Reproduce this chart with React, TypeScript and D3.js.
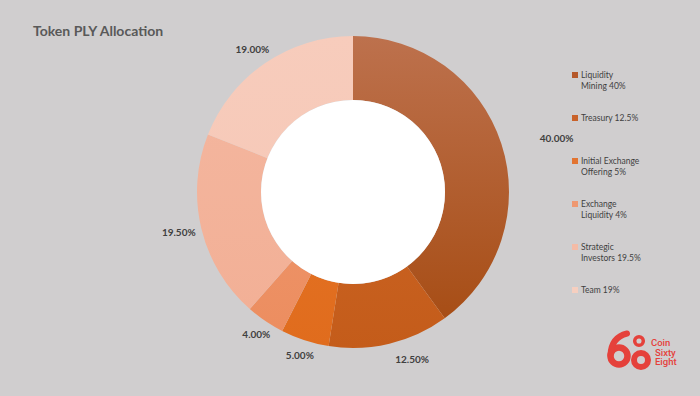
import React, { useRef, useEffect } from 'react'
import * as d3 from 'd3'

const categories = ['Liquidity Mining', 'Treasury', 'Initial Exchange Offering', 'Exchange Liquidity', 'Strategic Investors', 'Team']
const shares = [40, 12.5, 5, 4, 19.5, 19]
const legendLines = [
  ['Liquidity', 'Mining 40%'],
  ['Treasury 12.5%'],
  ['Initial Exchange', 'Offering 5%'],
  ['Exchange', 'Liquidity 4%'],
  ['Strategic', 'Investors 19.5%'],
  ['Team 19%'],
]
const sliceTop = ['#bd714d', '#d06a2c', '#e7772a', '#ef9a72', '#f4b7a0', '#f7ccbc']
const sliceBottom = ['#a54a10', '#c45c1a', '#e06c1d', '#ec8d5f', '#f2af95', '#f6c6b4']
const legendColors = ['#b5582a', '#c9622a', '#e27431', '#ee9871', '#f4bba6', '#f6cfc0']
// small horizontal nudges for the outside labels (best-fit placement)
const labelNudge = [40, 19, 0, 0, -7, -4]

const W = 700
const H = 396

const App = () => {
  const container = useRef<SVGSVGElement>(null)

  useEffect(() => {
    const svg = d3.select(container.current)
    svg.selectAll('*').remove()

    svg.append('rect').attr('width', W).attr('height', H).attr('fill', '#d0cecf')

    svg.append('text')
      .attr('x', 33)
      .attr('y', 36)
      .style('font-family', 'Lato')
      .style('font-weight', 700)
      .style('font-size', '14px')
      .style('fill', '#595959')
      .text('Token PLY Allocation')

    const cx = 353
    const cy = 192
    const outerR = 156
    const innerR = 92

    const defs = svg.append('defs')
    sliceTop.forEach((c, i) => {
      const g = defs.append('linearGradient')
        .attr('id', `grad${i}`)
        .attr('gradientUnits', 'userSpaceOnUse')
        .attr('x1', 0).attr('y1', -outerR)
        .attr('x2', 0).attr('y2', outerR)
      g.append('stop').attr('offset', '0%').attr('stop-color', c)
      g.append('stop').attr('offset', '100%').attr('stop-color', sliceBottom[i])
    })

    const pie = d3.pie<number>().sort(null).value(d => d)
    const arcs = pie(shares)
    const arc = d3.arc<d3.PieArcDatum<number>>().innerRadius(innerR).outerRadius(outerR)
    const labelArc = d3.arc<d3.PieArcDatum<number>>().innerRadius(172).outerRadius(172)

    const g = svg.append('g').attr('transform', `translate(${cx}, ${cy})`)

    g.selectAll('path')
      .data(arcs)
      .enter()
      .append('path')
      .attr('d', arc)
      .attr('fill', (d, i) => `url(#grad${i})`)
      .attr('stroke', 'none')

    g.append('circle').attr('r', innerR).attr('fill', '#ffffff')

    g.selectAll('text.lbl')
      .data(arcs)
      .enter()
      .append('text')
      .attr('class', 'lbl')
      .attr('x', (d, i) => labelArc.centroid(d)[0] + labelNudge[i])
      .attr('y', d => labelArc.centroid(d)[1])
      .attr('dy', '0.35em')
      .attr('text-anchor', 'middle')
      .style('font-family', 'Lato')
      .style('font-weight', 700)
      .style('font-size', '10px')
      .style('fill', '#404040')
      .text(d => d3.format('.2f')(d.data) + '%')

    // legend
    const legendY = d3.scalePoint<string>()
      .domain(categories)
      .range([75, 290])

    const lg = svg.append('g')
    categories.forEach((c, i) => {
      const y = legendY(c) as number
      lg.append('rect')
        .attr('x', 572)
        .attr('y', y - 3)
        .attr('width', 6)
        .attr('height', 6)
        .attr('fill', legendColors[i])
      const t = lg.append('text')
        .attr('x', 581)
        .attr('y', y + 3)
        .style('font-family', 'Lato')
        .style('font-size', '8.5px')
        .style('fill', '#3f3f3f')
      legendLines[i].forEach((line, j) => {
        t.append('tspan').attr('x', 581).attr('dy', j === 0 ? 0 : 11).text(line)
      })
    })

    // logo
    const red = '#e5413b'
    const logo = svg.append('g')
    logo.append('circle').attr('cx', 619).attr('cy', 356).attr('r', 8.5).attr('fill', 'none').attr('stroke', red).attr('stroke-width', 6.5)
    logo.append('path')
      .attr('d', 'M610.5,355 C611,343 617,336 627,333.5')
      .attr('fill', 'none').attr('stroke', red).attr('stroke-width', 6).attr('stroke-linecap', 'round')
    logo.append('circle').attr('cx', 639).attr('cy', 341).attr('r', 4.3).attr('fill', 'none').attr('stroke', red).attr('stroke-width', 3.5)
    logo.append('circle').attr('cx', 641).attr('cy', 360).attr('r', 7).attr('fill', 'none').attr('stroke', red).attr('stroke-width', 6)
    const words = ['Coin', 'Sixty', 'Eight']
    const wordX = [651, 655, 655]
    words.forEach((w, i) => {
      logo.append('text')
        .attr('x', wordX[i])
        .attr('y', 346 + i * 9.5)
        .style('font-family', 'Roboto')
        .style('font-weight', 500)
        .style('font-size', '9.5px')
        .style('fill', red)
        .text(w)
    })
  }, [])

  return (
    <svg
      ref={container}
      width={W}
      height={H}
      style={{ position: 'absolute', left: 0, top: 0, display: 'block' }}
    />
  )
}

export default App
